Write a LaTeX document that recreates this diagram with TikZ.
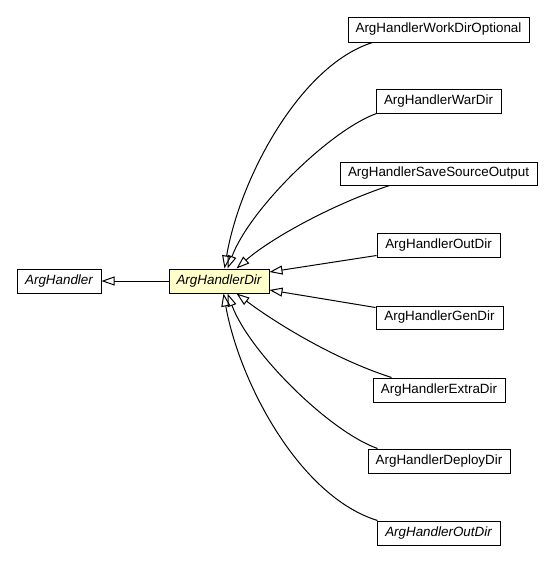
\documentclass[tikz,border=0pt]{standalone}
\usepackage{fontspec}
\setmainfont{Liberation Sans}
\usetikzlibrary{arrows.meta}
\definecolor{nodeyellow}{RGB}{255,255,204}
\tikzset{
  cls/.style={draw=black, line width=1pt, fill=white, minimum height=24pt, inner sep=0pt,
    font=\fontsize{13.4}{16}\selectfont},
  inh/.style={line width=1pt, -{Triangle[open, length=13pt, width=9pt, line width=1pt]}},
}
\begin{document}
\begin{tikzpicture}[x=1pt, y=-1pt]
\useasboundingbox (0,0) rectangle (553,563);
\node[cls, minimum width=84pt] (ah) at (59,281) {\itshape ArgHandler};
\node[cls, minimum width=100pt, fill=nodeyellow] (hdir) at (219,281) {\itshape ArgHandlerDir};
\node[cls, minimum width=181pt, minimum height=25pt] (wdo) at (438.5,29.5) {ArgHandlerWorkDirOptional};
\node[cls, minimum width=125pt] (war) at (438.5,101) {ArgHandlerWarDir};
\node[cls, minimum width=197pt, minimum height=23pt] (ssrc) at (438.5,173.5) {ArgHandlerSaveSourceOutput};
\node[cls, minimum width=123pt] (outd) at (438.5,245) {ArgHandlerOutDir};
\node[cls, minimum width=127pt, minimum height=23pt] (gend) at (439.5,317.5) {ArgHandlerGenDir};
\node[cls, minimum width=132pt] (extra) at (439,390) {ArgHandlerExtraDir};
\node[cls, minimum width=142pt] (deploy) at (439,461) {ArgHandlerDeployDir};
\node[cls, minimum width=123pt] (outd2) at (438.5,533) {\itshape ArgHandlerOutDir};

\draw[inh] (hdir.west) -- (ah.east);
\draw[inh] ([xshift=25pt]wdo.south west) .. controls +(-73,23) and +(15,-89) .. ([xshift=56pt]hdir.north west);
\draw[inh] ([xshift=1pt]war.south west) .. controls +(-47,17) and +(22,-59) .. ([xshift=59pt]hdir.north west);
\draw[inh] ([xshift=50pt]ssrc.south west) .. controls +(-60,20) and +(33,-29) .. ([xshift=68pt]hdir.north west);
\draw[inh] ([yshift=2pt]outd.south west) -- ([yshift=9pt]hdir.east);
\draw[inh] ([yshift=-2pt]gend.north west) -- ([yshift=-9pt]hdir.east);
\draw[inh] ([xshift=19pt]extra.north west) .. controls +(-62,-20) and +(33,25) .. ([xshift=68pt]hdir.south west);
\draw[inh] ([xshift=10pt]deploy.north west) .. controls +(-48,-17) and +(22,59) .. ([xshift=59pt]hdir.south west);
\draw[inh] ([xshift=1pt]outd2.north west) .. controls +(-78,-24) and +(16,89) .. ([xshift=55pt]hdir.south west);
\end{tikzpicture}
\end{document}
